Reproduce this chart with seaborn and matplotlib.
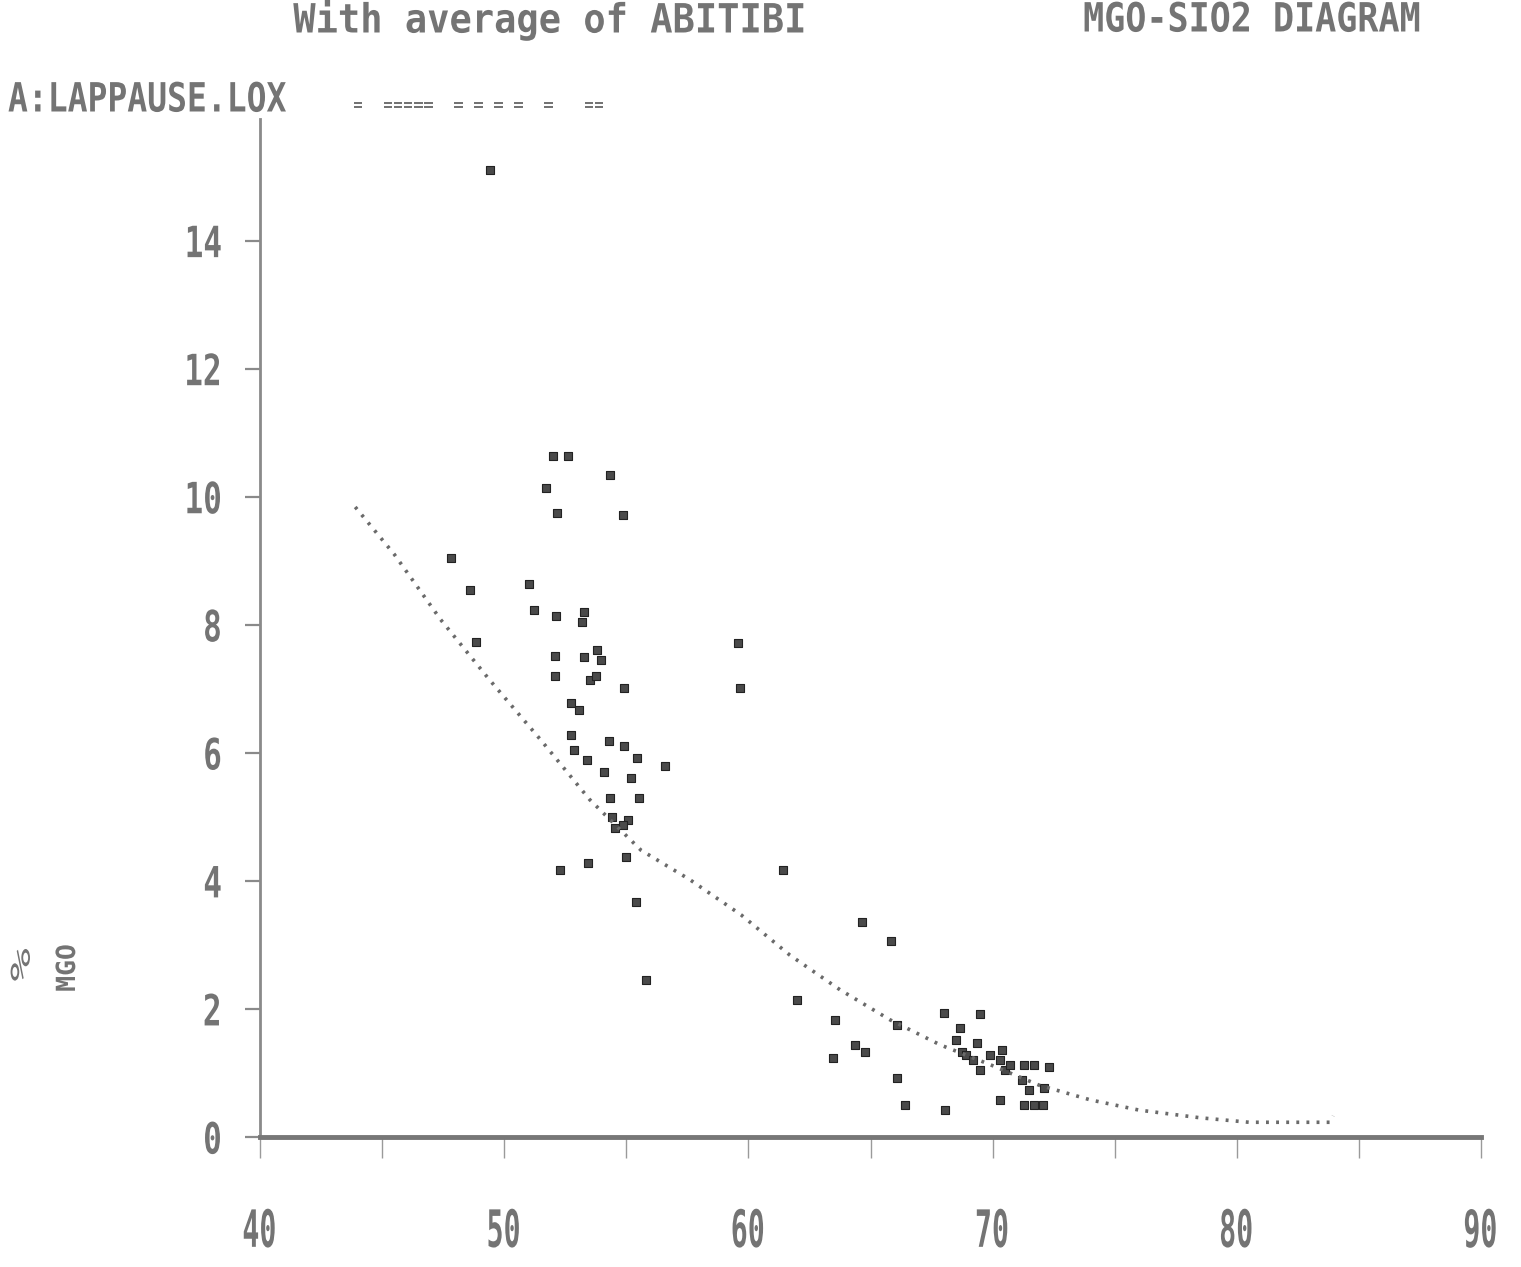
import numpy as np
import pandas as pd
import matplotlib
matplotlib.use("Agg")
import matplotlib.pyplot as plt
import matplotlib.patheffects as patheffects
from matplotlib.transforms import Affine2D
import seaborn as sns

# MgO (wt%) vs SiO2 (wt%) for the sample file
sio2 = [49.42, 52.0, 52.61, 51.71, 54.33, 52.16, 54.86, 47.82, 48.6, 51.0,
        51.2, 52.12, 53.27, 53.19, 48.85, 59.57, 52.08, 53.27, 53.8, 53.96,
        52.08, 53.51, 53.76, 54.9, 59.66, 52.74, 53.07, 52.74, 54.29, 52.86,
        53.4, 54.9, 55.43, 56.57, 54.09, 55.2, 54.33, 55.5, 54.41, 55.07,
        54.54, 54.86, 55.0, 52.28, 53.43, 55.4, 55.8, 61.42, 62.0, 64.65,
        65.84, 63.55, 63.46, 64.37, 64.78, 66.08, 66.08, 66.41, 68.0, 68.05,
        68.66, 68.5, 68.75, 68.9, 69.48, 69.36, 69.2, 69.48, 70.3, 70.4,
        70.5, 69.9, 70.3, 70.7, 71.28, 71.7, 72.3, 71.2, 71.5, 71.28,
        71.7, 72.06, 72.1]
mgo = [15.11, 10.64, 10.64, 10.14, 10.34, 9.75, 9.72, 9.05, 8.55, 8.64,
       8.23, 8.13, 8.2, 8.05, 7.73, 7.72, 7.52, 7.5, 7.61, 7.45,
       7.2, 7.14, 7.2, 7.02, 7.02, 6.78, 6.67, 6.28, 6.19, 6.05,
       5.89, 6.11, 5.92, 5.8, 5.7, 5.61, 5.3, 5.3, 5.0, 4.95,
       4.83, 4.88, 4.38, 4.17, 4.28, 3.67, 2.45, 4.17, 2.14, 3.36,
       3.06, 1.83, 1.23, 1.44, 1.33, 1.75, 0.92, 0.5, 1.94, 0.42,
       1.70, 1.52, 1.33, 1.28, 1.92, 1.47, 1.2, 1.05, 1.2, 1.36,
       1.05, 1.28, 0.58, 1.13, 1.13, 1.13, 1.09, 0.89, 0.73, 0.5,
       0.5, 0.5, 0.77]

# Average Abitibi trend
avg_sio2 = [43.9, 45.5, 47.4, 49.4, 51.5, 53.5, 55.6, 57.6, 59.7, 61.7,
            63.75, 65.8, 67.85, 69.9, 71.9, 74.0, 76.0, 78.5, 80.5, 83.8, 83.95]
avg_mgo = [9.84, 9.1, 8.08, 7.14, 6.2, 5.27, 4.48, 4.02, 3.47, 2.84,
           2.30, 1.83, 1.44, 1.13, 0.81, 0.58, 0.42, 0.30, 0.23, 0.23, 0.33]

x_ticks = [40, 50, 60, 70, 80, 90]
x_minor = [45, 55, 65, 75, 85]
y_ticks = [0, 2, 4, 6, 8, 10, 12, 14]

W, H = 1521, 1267
INK = "#747474"
MONO = "DejaVu Sans Mono"


class Squeeze(patheffects.AbstractPathEffect):
    """Scale a text path in display space around one of its edges."""

    def __init__(self, sx=1.0, sy=1.0, anchor="center"):
        super().__init__()
        self.sx, self.sy, self.anchor = sx, sy, anchor

    def draw_path(self, renderer, gc, tpath, affine, rgbFace=None):
        if not len(tpath.vertices):
            renderer.draw_path(gc, tpath, affine, rgbFace)
            return
        verts = affine.transform(tpath.vertices)
        x0, x1 = verts[:, 0].min(), verts[:, 0].max()
        y0, y1 = verts[:, 1].min(), verts[:, 1].max()
        cx = {"left": x0, "right": x1}.get(self.anchor, (x0 + x1) / 2)
        cy = (y0 + y1) / 2
        extra = Affine2D().translate(-cx, -cy).scale(self.sx, self.sy).translate(cx, cy)
        renderer.draw_path(gc, tpath, affine + extra, rgbFace)


sns.set_theme(style="white")
plt.rcParams["font.family"] = [MONO, "DejaVu Sans"]

fig = plt.figure(figsize=(W / 100, H / 100), dpi=100)
ax = fig.add_axes([260 / W, 1 - 1137 / H, (1481 - 260) / W, (1137 - 119) / H])

pts = pd.DataFrame({"SiO2": sio2, "MgO": mgo})
avg = pd.DataFrame({"SiO2": avg_sio2, "MgO": avg_mgo})

sns.lineplot(data=avg, x="SiO2", y="MgO", sort=False, estimator=None, ax=ax,
             color="#6a6a6a", lw=2.6, linestyle=(0, (0.8, 2.0)))
sns.scatterplot(data=pts, x="SiO2", y="MgO", ax=ax, marker="s", s=26,
                color="#4a4a4a", edgecolor="#222222", linewidth=0.8)

ax.set_xlim(40, 90)
ax.set_ylim(0, 15.9)
ax.set_xlabel("")
ax.set_ylabel("")

for side in ("top", "right"):
    ax.spines[side].set_visible(False)
ax.spines["left"].set_color("#8a8a8a")
ax.spines["left"].set_linewidth(2.0)
ax.spines["bottom"].set_color("#777777")
ax.spines["bottom"].set_linewidth(3.5)

ax.set_xticks(x_ticks)
ax.set_xticks(x_minor, minor=True)
ax.set_xticklabels([str(v) for v in x_ticks])
ax.set_yticks(y_ticks)
ax.set_yticklabels([str(v) for v in y_ticks])

ax.tick_params(axis="x", which="both", direction="out", length=15, width=1.0,
               color="#9a9a9a", bottom=True)
ax.tick_params(axis="x", which="major", labelsize=37, labelcolor=INK, pad=36)
ax.tick_params(axis="y", direction="out", length=11, width=1.6, color="#8a8a8a",
               left=True, labelsize=31, labelcolor=INK, pad=16)

for lbl in ax.get_xticklabels():
    lbl.set_fontfamily(MONO)
    lbl.set_fontweight("bold")
    lbl.set_path_effects([Squeeze(0.55, 1.0, "center")])
for lbl in ax.get_yticklabels():
    lbl.set_fontfamily(MONO)
    lbl.set_fontweight("bold")
    lbl.set_path_effects([Squeeze(0.72, 1.0, "right")])


def ftext(px, py, s, size, sx=1.0, sy=1.0, anchor="center", **kw):
    ha = {"left": "left", "right": "right"}.get(anchor, "center")
    t = fig.text(px / W, 1 - py / H, s, fontsize=size, color=INK, family=MONO,
                 ha=ha, va="center", **kw)
    t.set_path_effects([Squeeze(sx, sy, anchor)])
    return t


ftext(550, 20, "With average of ABITIBI", 29, sx=0.92, weight="bold")
ftext(1252, 20, "MGO-SIO2 DIAGRAM", 29, sx=0.87, weight="bold")
ftext(8, 100, "A:LAPPAUSE.LOX", 29, sx=0.82, anchor="left", weight="bold")
ftext(478, 105, "=  =====  = = = =  =   ==", 12, sx=1.0, weight="bold")

ftext(22, 965, "%", 20, sx=1.0, sy=2.0, rotation=90)
ftext(68, 968, "MGO", 19, rotation=90, weight="bold")

fig.savefig("out.png", dpi=100, facecolor="white")
